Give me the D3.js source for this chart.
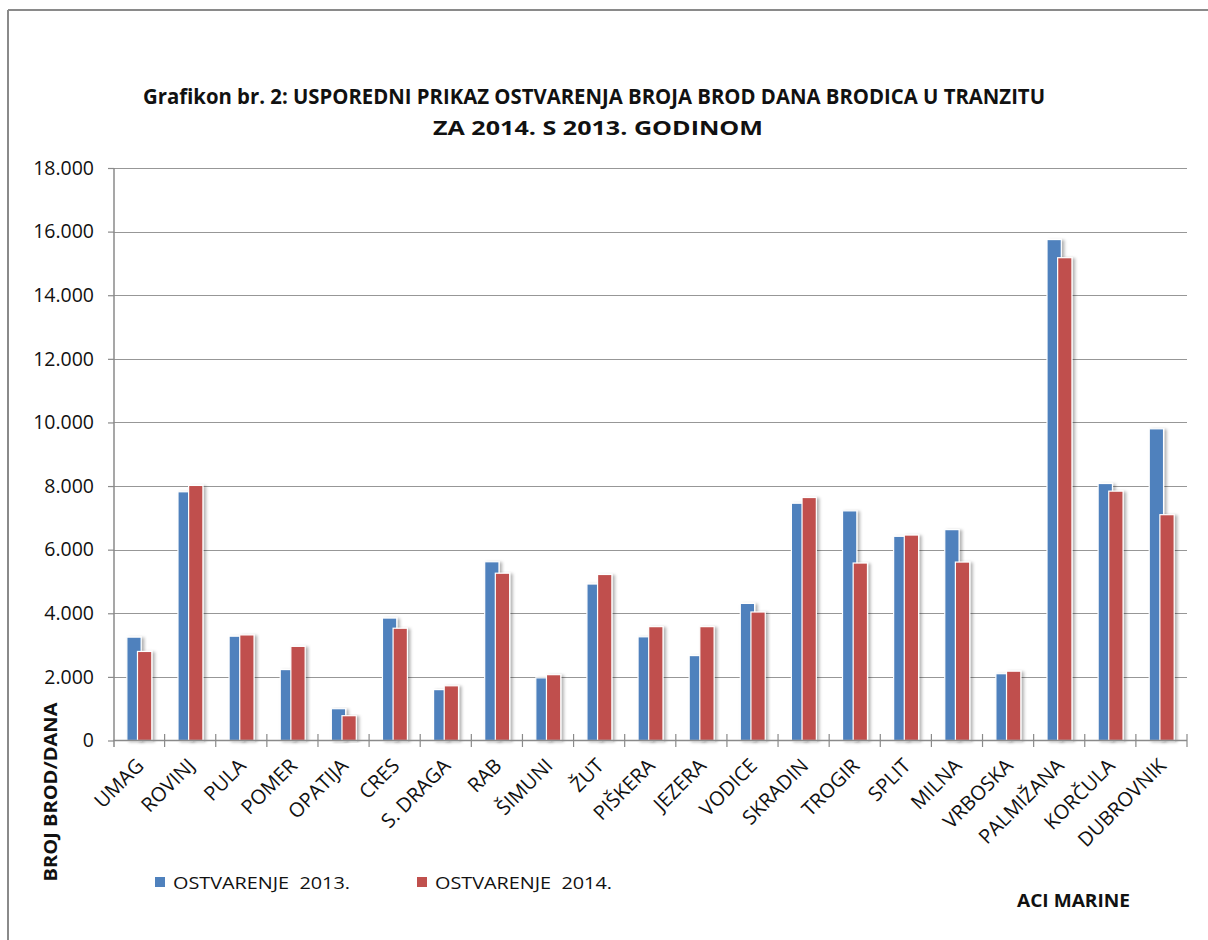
<!DOCTYPE html>
<html>
<head>
<meta charset="utf-8">
<script src="https://cdn.jsdelivr.net/npm/d3@7"></script>
<style>
  html, body { margin: 0; padding: 0; background: #fff; }
  svg { display: block; }
  text { font-family: "Open Sans", "Liberation Sans", sans-serif; fill: #111; }
</style>
</head>
<body>
<svg id="chart" width="1208" height="940"></svg>
<script>
// ---- data ----
const categories = ["UMAG","ROVINJ","PULA","POMER","OPATIJA","CRES","S. DRAGA","RAB","ŠIMUNI","ŽUT","PIŠKERA","JEZERA","VODICE","SKRADIN","TROGIR","SPLIT","MILNA","VRBOSKA","PALMIŽANA","KORČULA","DUBROVNIK"];
const values2013 = [3250,7820,3280,2230,1000,3850,1600,5620,1970,4920,3260,2670,4310,7460,7220,6420,6630,2100,15750,8080,9800];
const values2014 = [2800,8020,3320,2960,780,3530,1720,5260,2070,5220,3580,3580,4040,7640,5580,6460,5610,2180,15180,7840,7100];
const seriesNames = ["OSTVARENJE  2013.", "OSTVARENJE  2014."];
const seriesColors = ["#4F81BD", "#C0504D"];
const yTicks = [0,2000,4000,6000,8000,10000,12000,14000,16000,18000];
const titleLines = ["Grafikon br. 2: USPOREDNI PRIKAZ OSTVARENJA BROJA BROD DANA BRODICA U TRANZITU", "ZA 2014. S 2013. GODINOM"];
const yTitle = "BROJ BROD/DANA";
const xTitle = "ACI MARINE";

// ---- setup ----
const svg = d3.select("#chart");
const defs = svg.append("defs");
const f = defs.append("filter").attr("id","shadow").attr("x","-30%").attr("y","-5%").attr("width","170%").attr("height","115%");
f.append("feDropShadow").attr("dx",2.5).attr("dy",1).attr("stdDeviation",1.8).attr("flood-color","#000").attr("flood-opacity",0.3);

const locale = d3.formatLocale({decimal: ",", thousands: ".", grouping: [3], currency: ["", ""]});
const fmt = locale.format(",.0f");

const x = d3.scaleBand().domain(categories).range([113.5, 1187]).padding(0);
const y = d3.scaleLinear().domain([0, 18000]).range([740.5, 168]);

// frame
svg.append("line").attr("x1",8).attr("x2",1208).attr("y1",10).attr("y2",10).attr("stroke","#8a8a8a").attr("stroke-width",2);
svg.append("line").attr("x1",8).attr("x2",8).attr("y1",10).attr("y2",940).attr("stroke","#8a8a8a").attr("stroke-width",2);

// title
svg.append("text").attr("x",594).attr("y",104).attr("text-anchor","middle")
  .attr("font-size",21).attr("font-weight","bold")
  .attr("textLength", 902).attr("lengthAdjust","spacingAndGlyphs").text(titleLines[0]);
svg.append("text").attr("x",598).attr("y",135).attr("text-anchor","middle")
  .attr("font-size",20).attr("font-weight","bold")
  .attr("textLength", 330).attr("lengthAdjust","spacingAndGlyphs").text(titleLines[1]);

// gridlines
svg.append("g").selectAll("line").data(yTicks.filter(d => d > 0)).join("line")
  .attr("x1", 113.5).attr("x2", 1187)
  .attr("y1", d => Math.round(y(d)) + 0.5).attr("y2", d => Math.round(y(d)) + 0.5)
  .attr("stroke", "#979797").attr("stroke-width", 1.2);

// bars
const bw = x.bandwidth();
const barW = bw * 0.28;
const blueOff = bw * 0.5 - 12.2;
const redOff = blueOff + bw * 0.208;
const gBars = svg.append("g");
const series = [values2013, values2014];
const offsets = [blueOff, redOff];
series.forEach((vals, si) => {
  gBars.append("g").selectAll("rect").data(categories.map((c, i) => ({c, v: vals[i]}))).join("rect")
    .attr("x", d => x(d.c) + offsets[si])
    .attr("y", d => y(d.v))
    .attr("width", barW)
    .attr("height", d => y(0) - y(d.v))
    .attr("fill", seriesColors[si])
    .attr("stroke", "#fff").attr("stroke-width", 1.2)
    .attr("filter", "url(#shadow)");
});

// y axis
const yAxis = d3.axisLeft(y).tickValues(yTicks).tickFormat(fmt).tickSize(6).tickPadding(14);
const gy = svg.append("g").attr("transform", "translate(114,0)").call(yAxis);
gy.select(".domain").remove();
gy.append("line").attr("x1",0).attr("x2",0).attr("y1",168).attr("y2",747).attr("stroke","#8a8a8a").attr("stroke-width",1.5);
gy.selectAll(".tick line").attr("stroke","#8a8a8a").attr("stroke-width",1.2);
gy.selectAll(".tick text").attr("font-size",19.5).attr("fill","#111").attr("font-family","'Open Sans', sans-serif");

// x axis
const gx = svg.append("g");
gx.append("line").attr("x1",113.5).attr("x2",1187).attr("y1",740.5).attr("y2",740.5).attr("stroke","#8a8a8a").attr("stroke-width",1.5);
const boundaries = categories.map(c => x(c) + bw);
gx.selectAll("line.tk").data(boundaries).join("line").attr("class","tk")
  .attr("x1", d => d).attr("x2", d => d).attr("y1", 734).attr("y2", 747)
  .attr("stroke","#8a8a8a").attr("stroke-width",1.2);
gx.selectAll("text").data(categories).join("text")
  .attr("transform", d => `translate(${x(d) + bw/2 + 6},767) rotate(-45)`)
  .attr("text-anchor","end")
  .attr("font-size",20)
  .text(d => d);

// y title
svg.append("text").attr("transform","translate(57,792) rotate(-90)")
  .attr("text-anchor","middle").attr("font-size",17).attr("font-weight","bold")
  .attr("textLength",179).attr("lengthAdjust","spacingAndGlyphs").text(yTitle);

// x title
svg.append("text").attr("x",1017).attr("y",907).attr("font-size",17).attr("font-weight","bold")
  .attr("textLength",113).attr("lengthAdjust","spacingAndGlyphs").text(xTitle);

// legend
const legendX = [155, 417];
seriesNames.forEach((n, i) => {
  svg.append("rect").attr("x", legendX[i]).attr("y", 877).attr("width", 10).attr("height", 10).attr("fill", seriesColors[i]);
  svg.append("text").attr("x", legendX[i] + 18).attr("y", 889).attr("font-size", 16)
    .style("white-space","pre")
    .attr("textLength",177).attr("lengthAdjust","spacingAndGlyphs").text(n);
});
</script>
</body>
</html>
